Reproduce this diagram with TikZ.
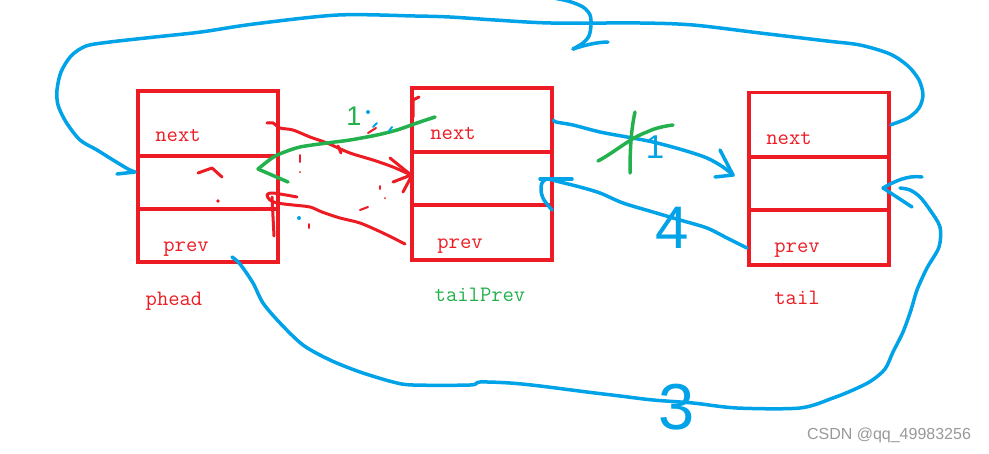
\documentclass[tikz,border=0pt]{standalone}
\usepackage{fontspec}
\setmainfont{Liberation Sans}
\usetikzlibrary{arrows.meta}
\definecolor{pred}{RGB}{237,28,36}
\definecolor{pblue}{RGB}{0,162,232}
\definecolor{pgreen}{RGB}{34,177,76}
\begin{document}
\begin{tikzpicture}[x=1pt,y=-1pt,
 cell/.style={draw=pred, line width=3.6pt, minimum width=140pt, inner sep=0pt},
 lbl/.style={font=\ttfamily\fontsize{22}{22}\selectfont, inner sep=0pt, text=pred},
 bstroke/.style={draw=pblue, line width=3.5pt, line cap=round, line join=round},
 rstroke/.style={draw=pred, line width=3pt, line cap=round, line join=round},
 gstroke/.style={draw=pgreen, line width=3.5pt, line cap=round, line join=round},
 speck/.style={line width=2pt, line cap=round},
 hand/.style={font=\fontsize{#1}{#1}\selectfont, inner sep=0pt},
]
\useasboundingbox[fill=white] (0,0) rectangle (989,453);

% boxes
\node[cell, minimum height=65pt] (ph1) at (208,123.5) {};
\node[cell, minimum height=53pt] (ph2) at (208,182.5) {};
\node[cell, minimum height=53pt] (ph3) at (208,235.5) {};
\node[cell, minimum width=139.5pt, minimum height=64pt] (tp1) at (482,120) {};
\node[cell, minimum width=139.5pt, minimum height=53pt] (tp2) at (482,178.5) {};
\node[cell, minimum width=139.5pt, minimum height=55pt] (tp3) at (482,232.5) {};
\node[cell, minimum height=64.5pt] (t1) at (819,124.75) {};
\node[cell, minimum height=53pt] (t2) at (819,183.5) {};
\node[cell, minimum height=55pt] (t3) at (819,237.5) {};

% texts
\node[lbl] (phn) at (178,135) {next};
\node[lbl] (php) at (186,249) {prev};
\node[lbl] (phl) at (174,301) {phead};
\node[lbl] (tpn) at (453,133) {next};
\node[lbl] (tpp) at (460,246) {prev};
\node[lbl, text=pgreen] (tpl) at (480,295) {tailPrev};
\node[lbl] (tn) at (789,138) {next};
\node[lbl] (tpv) at (797,250) {prev};
\node[lbl] (tl) at (797,298) {tail};

% free ends
\coordinate (hA) at (135,172);
\coordinate (hB) at (883,188);
\coordinate (hC) at (733,175);
\coordinate (hD) at (552,210);
\coordinate (hE) at (411,175);
\coordinate (hF) at (258,169);

% blue: tail.next -> phead (top loop)
\draw[bstroke] plot[smooth] coordinates {(t1.east) (908,118) (919,108) (923,95) (919,80) (908,66) (890,54) (860,45) (827,41) (760,33) (693,25) (640,23) (551,23) (495,20) (450,17) (415,16) (338,15) (254,24) (201,32) (155,37) (110,42) (86,46) (71,56) (61,72) (57,90) (58,105) (66,122) (80,140) (97,150) (113,160) (128,169) (hA)};
\draw[bstroke] (117,174) -- (hA);
% small loop at top
\draw[bstroke] plot[smooth] coordinates {(548,-3) (568,1) (583,7) (590,15) (591,25) (589,36) (583,43) (573,49)};
\draw[bstroke] (573,49) .. controls (585,45) and (598,42) .. (608,42);

% blue: phead.prev -> tail (bottom)
\draw[bstroke] plot[smooth] coordinates {(232,257) (240,264) (253,283) (263,303) (280,323) (303,345) (330,360) (360,372) (393,382) (413,385) (470,385) (480,382) (510,383) (540,386) (587,392) (620,396) (653,400) (693,403) (737,408) (800,408) (833,398) (853,390) (871,381) (885,369) (893,352) (903,332) (911,310) (917,290) (927,268) (939,247) (940,227) (930,210) (920,197) (910,190) (900,188)};
\draw[bstroke] (922,177) .. controls (908,175) and (895,181) .. (hB) -- (912,207);
\node[hand=65, text=pblue] (n3) at (677,407) {3};

% blue: tailPrev.next -> tail
\draw[bstroke] plot[smooth] coordinates {(tp1.east) (556,122) (573,125) (600,132) (627,137) (653,142) (683,150) (707,158) (723,167) (hC)};
\draw[bstroke] (720,150) -- (hC) -- (715,177);
\node[hand=33, text=pblue] (n1b) at (655,147) {1};
% green cross
\draw[gstroke] (635,112) .. controls (631,130) and (630,150) .. (630,173);
\draw[gstroke] (598,161) .. controls (615,152) and (630,138) .. (647,132) .. controls (655,128) and (665,126) .. (673,125);

% blue: tail.prev -> tailPrev
\draw[bstroke] plot[smooth] coordinates {(747,248) (727,238) (707,228) (680,220) (653,212) (623,203) (600,193) (580,187) (560,182) (547,179) (542,183) (541,191) (544,200) (hD)};
\draw[bstroke] (540,179) -- (572,179);
\node[hand=60, text=pblue] (n4) at (672,228) {4};

% red: phead.next -> tailPrev
\draw[rstroke] plot[smooth] coordinates {(267,123) (273,123) (280,128) (293,130) (310,137) (327,143) (350,153) (373,160) (393,167) (hE)};
\draw[rstroke] (390,158) -- (hE) -- (393,182);
\draw[rstroke] (403,192) -- (411,177);
\draw[rstroke] (338,146) -- (341,153);
% red: tailPrev.prev -> phead
\draw[rstroke] plot[smooth] coordinates {(405,244) (383,233) (360,223) (340,218) (322,212) (310,207) (293,205) (277,203) (270,200) (267,195) (273,193) (297,197)};
\draw[rstroke] (272,197) -- (274,236);
\draw[rstroke] (413,117) -- (413,100) -- (419,97);
% red marks inside phead
\draw[rstroke] (198,173) -- (212,168) -- (222,177);
\fill[pred] (218,201) circle (1.8pt);
\draw[pred, speck] (300,155) -- (300,162);
\draw[pred, speck] (368,133) -- (376,128);
\draw[pred, speck] (360,210) -- (368,207);
\draw[pred, speck] (380,186) -- (380,189);
\fill[pred] (385,198) circle (1pt);
\fill[pred] (300,172) circle (1pt);
\draw[pred, speck] (309,224) -- (309,228);

% green: tailPrev.next -> phead
\draw[gstroke] plot[smooth] coordinates {(435,117) (417,123) (397,130) (377,135) (350,140) (327,143) (300,147) (282,153) (272,158) (hF)};
\draw[gstroke] (hF) -- (288,182);
\node[hand=27, text=pgreen] (n1g) at (354,116) {1};
% blue specks
\fill[pblue] (368,112) circle (2pt);
\draw[pblue, speck] (373,127) -- (377,123);
\draw[pblue, speck] (389,131) -- (392,127);
\fill[pblue] (299,218) circle (2pt);

% watermark
\node[text=black!40, font=\fontsize{16}{16}\selectfont, inner sep=0pt] (wm) at (889,435) {CSDN @qq\_49983256};
\end{tikzpicture}
\end{document}
